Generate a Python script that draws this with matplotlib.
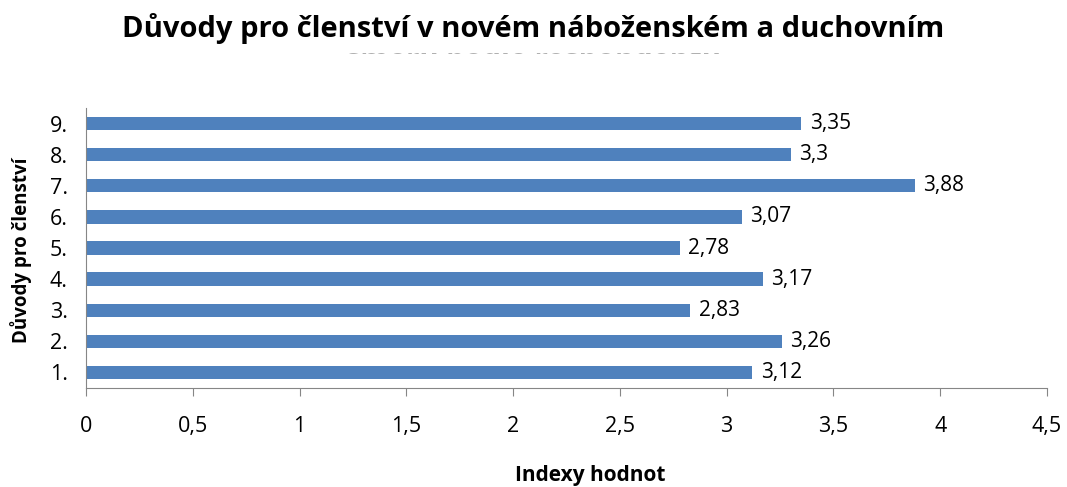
import matplotlib.pyplot as plt
from matplotlib.patches import Rectangle

categories = ["1.", "2.", "3.", "4.", "5.", "6.", "7.", "8.", "9."]
values = [3.12, 3.26, 2.83, 3.17, 2.78, 3.07, 3.88, 3.3, 3.35]
value_labels = ["3,12", "3,26", "2,83", "3,17", "2,78", "3,07", "3,88", "3,3", "3,35"]
xticks = [0, 0.5, 1, 1.5, 2, 2.5, 3, 3.5, 4, 4.5]
xtick_labels = ["0", "0,5", "1", "1,5", "2", "2,5", "3", "3,5", "4", "4,5"]

plt.rcParams['font.family'] = ['Open Sans', 'DejaVu Sans']

W, H = 1067, 487
fig = plt.figure(figsize=(W / 100, H / 100), dpi=100)
ax = fig.add_axes([86 / W, 1 - 388 / H, (1047 - 86) / W, (388 - 108) / H])

ax.barh(range(len(values)), values, height=0.43, color="#4F81BD")
for i, (v, lab) in enumerate(zip(values, value_labels)):
    ax.annotate(lab, (v, i), xytext=(6, 0), textcoords="offset points",
                va="center", ha="left", fontsize=15)

ax.set_xlim(0, 4.5)
ax.set_ylim(-0.5, len(values) - 0.5)
ax.set_xticks(xticks)
ax.set_xticklabels(xtick_labels, fontsize=15.5)
ax.set_yticks(range(len(categories)))
ax.set_yticklabels(categories, fontsize=15.5)
ax.tick_params(axis="x", direction="out", length=6, color="#868686", pad=14)
ax.tick_params(axis="y", length=0, pad=13)
for s in ["top", "right"]:
    ax.spines[s].set_visible(False)
for s in ["left", "bottom"]:
    ax.spines[s].set_color("#868686")

fig.text(590 / W, 1 - 475 / H, "Indexy hodnot", ha="center", va="center",
         fontsize=15, fontweight="bold")
fig.text(21 / W, 1 - 250 / H, "Důvody pro členství", ha="center", va="center",
         rotation=90, fontsize=13.5, fontweight="bold")

fig.text(0.5, 1 - 29 / H, "Důvody pro členství v novém náboženském a duchovním",
         ha="center", va="center", fontsize=21, fontweight="bold", zorder=5)
# second title line is cut off by the title box; only a thin strip shows
fig.text(0.5, 1 - 60.5 / H, "směru podle respondentů", ha="center", va="center",
         fontsize=21, fontweight="bold", color="#b0b0b0", zorder=1)
for top, bottom in [(44, 52.5), (54.5, 100)]:
    fig.patches.append(Rectangle((0, 1 - bottom / H), 1, (bottom - top) / H,
                                 transform=fig.transFigure, facecolor="white",
                                 edgecolor="none", zorder=2))

fig.savefig("out.png", dpi=100)
